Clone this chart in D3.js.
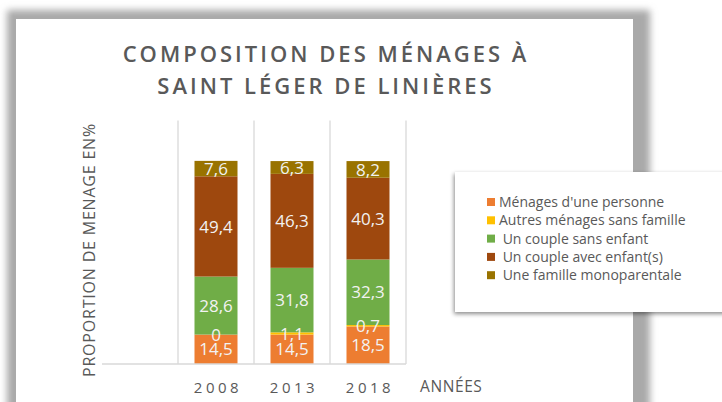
<!DOCTYPE html>
<html>
<head>
<meta charset="utf-8">
<script src="https://cdn.jsdelivr.net/npm/d3@7"></script>
<style>
  body { margin: 0; background: #fff; }
  svg { display: block; font-family: "Open Sans", sans-serif; }
</style>
</head>
<body>
<svg id="chart" width="722" height="402"></svg>
<script>
// data
let years = ["", "2008", "2013", "2018"]
let series = ["Ménages d'une personne", "Autres ménages sans famille", " Un couple sans enfant", " Un couple avec enfant(s)", " Une famille monoparentale"]
let keys = ["seul", "autres", "sansEnfant", "avecEnfant", "mono"]
let seul = [null, 14.5, 14.5, 18.5]
let autres = [null, 0, 1.1, 0.7]
let sansEnfant = [null, 28.6, 31.8, 32.3]
let avecEnfant = [null, 49.4, 46.3, 40.3]
let mono = [null, 7.6, 6.3, 8.2]
let colors = ["#ED7D31", "#FFC000", "#70AD47", "#9E480E", "#997300"]

let svg = d3.select('#chart')
let defs = svg.append('defs')

// shadows
defs.append('filter').attr('id', 'blur').attr('x', '-10%').attr('y', '-10%').attr('width', '120%').attr('height', '120%')
    .append('feGaussianBlur').attr('stdDeviation', 3.5)
let ds = defs.append('filter').attr('id', 'legshadow').attr('x', '-20%').attr('y', '-20%').attr('width', '140%').attr('height', '150%')
ds.append('feDropShadow').attr('dx', -1).attr('dy', 2).attr('stdDeviation', 2).attr('flood-color', '#000').attr('flood-opacity', 0.45)

// card with its grey border
svg.append('rect').attr('x', 7).attr('y', 10).attr('width', 643).attr('height', 420)
    .attr('fill', '#a9a9a9').attr('filter', 'url(#blur)')
svg.append('rect').attr('x', 16).attr('y', 19).attr('width', 617).attr('height', 400).attr('fill', '#fff')

// title
let title = svg.append('text')
    .attr('text-anchor', 'middle')
    .attr('fill', '#595959')
    .style('font-size', '22px')
    .style('font-weight', 600)
    .style('letter-spacing', '3px')
title.append('tspan').attr('x', 326).attr('y', 62).text('COMPOSITION DES MÉNAGES À')
title.append('tspan').attr('x', 326).attr('y', 94).text('SAINT LÉGER DE LINIÈRES')

// scales
let x = d3.scaleBand().domain(years).range([102, 406]).paddingInner(0).paddingOuter(0)
let y = d3.scaleLinear().domain([0, 120]).range([364, 120.5])

let table = years.map((yr, i) => {
    return {year: yr, seul: seul[i] || 0, autres: autres[i] || 0, sansEnfant: sansEnfant[i] || 0,
        avecEnfant: avecEnfant[i] || 0, mono: mono[i] || 0, empty: seul[i] === null}
})
let stack = d3.stack().keys(keys)(table)

// vertical gridlines between categories
let g = svg.append('g')
years.forEach((yr, i) => {
    if (i === 0) return
    g.append('line')
        .attr('x1', x(yr)).attr('x2', x(yr))
        .attr('y1', y(120)).attr('y2', y(0))
        .attr('stroke', '#d9d9d9').attr('stroke-width', 1.3)
})
g.append('line')
    .attr('x1', x.range()[1]).attr('x2', x.range()[1])
    .attr('y1', y(120)).attr('y2', y(0))
    .attr('stroke', '#d9d9d9').attr('stroke-width', 1.3)

let barW = 43
let layer = g.selectAll('.layer')
    .data(stack)
    .enter().append('g')
    .attr('class', 'layer')
    .attr('fill', (d, i) => colors[i])

layer.selectAll('rect')
    .data(d => d.filter(p => !p.data.empty))
    .enter().append('rect')
    .attr('x', d => x(d.data.year) + (x.bandwidth() - barW) / 2)
    .attr('width', barW)
    .attr('y', d => y(d[1]))
    .attr('height', d => y(d[0]) - y(d[1]))

// baseline
g.append('line')
    .attr('x1', x.range()[0]).attr('x2', x.range()[1])
    .attr('y1', y(0)).attr('y2', y(0))
    .attr('stroke', '#d9d9d9').attr('stroke-width', 1.3)

// data labels on top of all bars (the small ones overlap, as in the original)
let fmt = v => String(v).replace('.', ',')
let labels = svg.append('g')
stack.forEach((d, i) => {
    labels.append('g').selectAll('text')
        .data(d.filter(p => !p.data.empty))
        .enter().append('text')
        .attr('x', p => x(p.data.year) + x.bandwidth() / 2)
        .attr('y', p => y((p[0] + p[1]) / 2))
        .attr('dy', '0.36em')
        .attr('text-anchor', 'middle')
        .attr('fill', '#f2f2f2')
        .style('font-size', '17px')
        .text(p => fmt(p[1] - p[0] === 0 ? 0 : +(p[1] - p[0]).toFixed(1)))
})

// x tick labels
svg.append('g').selectAll('text')
    .data(years.filter(yr => yr !== ''))
    .enter().append('text')
    .attr('x', yr => x(yr) + x.bandwidth() / 2 + 2)
    .attr('y', 393)
    .attr('text-anchor', 'middle')
    .attr('fill', '#595959')
    .style('font-size', '15px')
    .style('letter-spacing', '3.5px')
    .text(yr => yr)

svg.append('text')
    .attr('x', 420).attr('y', 392)
    .attr('fill', '#595959')
    .style('font-size', '15.5px')
    .style('letter-spacing', '0.6px')
    .text('ANNÉES')

// y axis title
svg.append('text')
    .attr('transform', 'translate(95,250) rotate(-90)')
    .attr('text-anchor', 'middle')
    .attr('fill', '#595959')
    .style('font-size', '16px')
    .style('letter-spacing', '0.8px')
    .text('PROPORTION DE MENAGE EN%')

// legend
let leg = svg.append('g')
leg.append('rect').attr('x', 455).attr('y', 172).attr('width', 290).attr('height', 140)
    .attr('fill', '#fff').attr('filter', 'url(#legshadow)')
let item = leg.selectAll('.item')
    .data(series)
    .enter().append('g')
    .attr('class', 'item')
    .attr('transform', (d, i) => 'translate(487,' + (202 + i * 18.3) + ')')
item.append('rect')
    .attr('x', 0).attr('y', -4).attr('width', 8).attr('height', 8)
    .attr('fill', (d, i) => colors[i])
item.append('text')
    .attr('x', 12).attr('dy', '0.35em')
    .attr('fill', '#595959')
    .style('font-size', '14px')
    .style('white-space', 'pre')
    .text(d => d)
</script>
</body>
</html>
